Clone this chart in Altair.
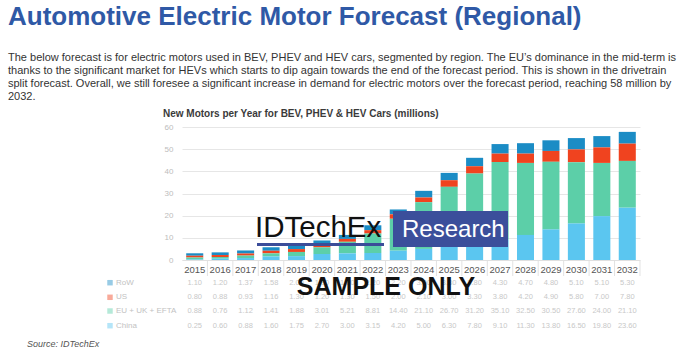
import altair as alt
import pandas as pd

years = [str(y) for y in range(2015, 2033)]
china = [0.25, 0.60, 0.88, 1.60, 1.75, 2.70, 3.00, 3.15, 4.20, 5.00, 6.30, 7.80, 9.10, 11.30, 13.80, 16.50, 19.80, 23.60]
eu = [0.88, 0.76, 1.12, 1.41, 1.88, 3.01, 5.21, 8.81, 14.40, 21.10, 26.70, 31.20, 35.10, 32.50, 30.50, 27.60, 24.00, 21.10]
us = [0.80, 0.88, 0.93, 1.16, 1.30, 1.20, 1.30, 1.50, 2.00, 2.10, 3.00, 3.30, 3.80, 4.20, 4.90, 5.80, 7.00, 7.80]
row = [1.10, 1.20, 1.37, 1.58, 2.00, 1.90, 1.80, 2.20, 2.20, 3.00, 3.30, 3.80, 4.30, 4.70, 4.80, 5.10, 5.10, 5.30]

regions = ["RoW", "US", "EU + UK + EFTA", "China"]
colors = ["#1b8cc5", "#f0431f", "#5ccfa8", "#5bc6f0"]
series = {"RoW": row, "US": us, "EU + UK + EFTA": eu, "China": china}
stack_order = {"China": 1, "EU + UK + EFTA": 2, "US": 3, "RoW": 4}

title_text = "Automotive Electric Motor Forecast (Regional)"
para_lines = [
    "The below forecast is for electric motors used in BEV, PHEV and HEV cars, segmented by region. The EU\u2019s dominance in the mid-term is",
    "thanks to the significant market for HEVs which starts to dip again towards the end of the forecast period. This is shown in the drivetrain",
    "split forecast. Overall, we still foresee a significant increase in demand for electric motors over the forecast period, reaching 58 million by",
    "2032.",
]
chart_title = "New Motors per Year for BEV, PHEV & HEV Cars (millions)"
source_text = "Source: IDTechEx"

rows = []
for r in regions:
    for y, v in zip(years, series[r]):
        rows.append({"year": y, "region": r, "value": v, "ord": stack_order[r]})
df = pd.DataFrame(rows)

FONT = "Liberation Sans"
W, H = 458, 133
one = pd.DataFrame({"a": [0]})

xenc = alt.X("year:N", title=None, sort=years,
             scale=alt.Scale(paddingInner=0.33, paddingOuter=0.165),
             axis=alt.Axis(labelAngle=0, ticks=False, domain=True, domainColor="#e0e0e0",
                           labelFont=FONT, labelFontSize=9.5, labelColor="#555555",
                           labelPadding=4))

bars = alt.Chart(df).mark_bar().encode(
    x=xenc,
    y=alt.Y("value:Q", title=None, stack="zero",
            scale=alt.Scale(domain=[0, 60], nice=False),
            axis=alt.Axis(values=[0, 10, 20, 30, 40, 50, 60], ticks=False, domain=False,
                          gridColor="#e6e6e6", labelColor="#bdbdbd", labelFontSize=8,
                          labelFont=FONT, labelPadding=9)),
    color=alt.Color("region:N", scale=alt.Scale(domain=regions, range=colors), legend=None),
    order=alt.Order("ord:Q", sort="ascending"),
)

# header cell separators
seps = alt.Chart(pd.DataFrame({"year": years})).mark_rule(
    color="#e2e2e2", strokeWidth=1, xOffset=12.7).encode(
    x=alt.X("year:N", sort=years),
    y=alt.value(H + 1), y2=alt.value(H + 16))


def txt(text, x, y, size, color="#333333", weight="normal", style="normal",
        align="left", baseline="alphabetic", lineHeight=None, opacity=1.0):
    kw = dict(font=FONT, fontSize=size, color=color, fontWeight=weight, fontStyle=style,
              align=align, baseline=baseline, opacity=opacity)
    if lineHeight is not None:
        kw["lineHeight"] = lineHeight
    return alt.Chart(one).mark_text(**kw).encode(
        x=alt.value(x), y=alt.value(y), text=alt.value(text))


layers = [bars, seps]

# headline and paragraph
layers.append(txt(title_text, -174, -102, 26, color="#2f59a6", weight="bold"))
layers.append(txt(para_lines, -174, -66, 11, color="#333333", lineHeight=13))
layers.append(txt(chart_title, -19, -10, 10, color="#3a3a3a", weight="bold"))
layers.append(txt(source_text, -155, 220, 9, color="#555555", style="italic"))

# blurred data table rows
row_y = [155.7, 170.3, 184.0, 198.7]
for r, c, yy in zip(regions, colors, row_y):
    sub = df[df["region"] == r]
    layers.append(alt.Chart(one).mark_square(size=30, opacity=0.45, color=c).encode(
        x=alt.value(-72), y=alt.value(yy)))
    layers.append(txt(r, -66, yy, 8, color="#c2c2c2", baseline="middle"))
    layers.append(alt.Chart(sub).mark_text(font=FONT, fontSize=7.5, color="#c8c8c8",
                                           baseline="middle").encode(
        x=alt.X("year:N", sort=years),
        y=alt.value(yy),
        text=alt.Text("value:Q", format=".2f")))

# IDTechEx watermark
layers.append(txt("IDTechEx", 73, 110, 29.5, color="#111111"))
layers.append(alt.Chart(one).mark_rule(color="#3b4d99", strokeWidth=3).encode(
    x=alt.value(75), x2=alt.value(202), y=alt.value(117.5)))
layers.append(alt.Chart(one).mark_rect(color="#3b4f9b").encode(
    x=alt.value(211), x2=alt.value(326), y=alt.value(84), y2=alt.value(120)))
layers.append(txt("Research", 220, 110, 24, color="#ffffff"))
layers.append(txt("SAMPLE ONLY", 204, 168, 25, color="#111111", weight="bold", align="center"))

chart = alt.layer(*layers).properties(
    width=W, height=H,
    padding={"left": 182, "top": 127, "right": 47, "bottom": 93},
    autosize=alt.AutoSizeParams(type="none"),
    background="white",
).configure_view(stroke=None)

chart.save("out.html", embed_options={"renderer": "svg", "actions": False})
